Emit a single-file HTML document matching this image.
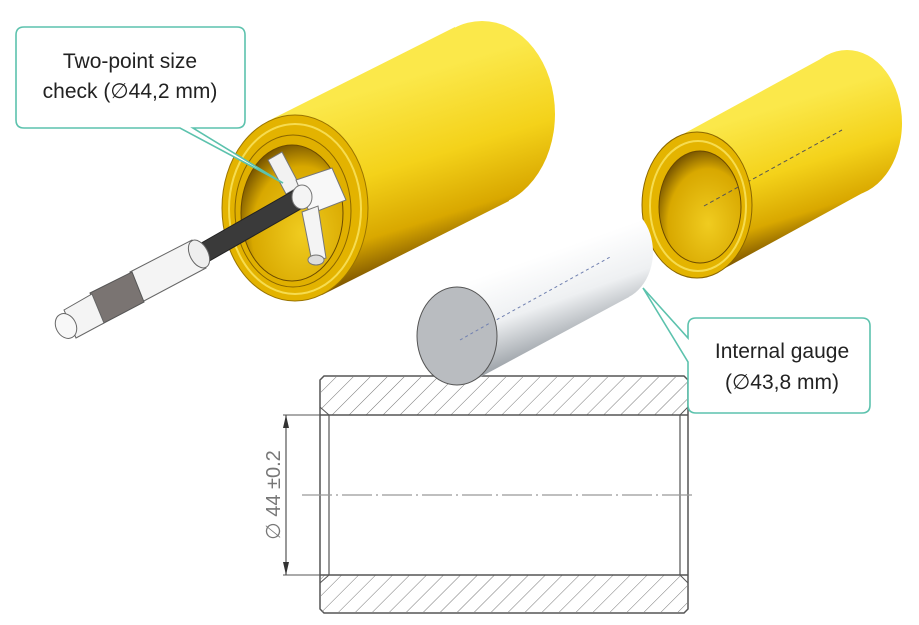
<!DOCTYPE html>
<html><head><meta charset="utf-8"><style>
html,body{margin:0;padding:0;background:#fff}
svg{display:block}
text{font-family:"Liberation Sans",Arial,sans-serif}
</style></head><body>
<svg width="919" height="625" viewBox="0 0 919 625" xmlns="http://www.w3.org/2000/svg">
<defs>
<linearGradient id="yb1" gradientUnits="userSpaceOnUse" x1="268" y1="121" x2="322" y2="295">
<stop offset="0" stop-color="#fbe84a"/><stop offset="0.45" stop-color="#f4d21a"/><stop offset="0.78" stop-color="#d9a800"/><stop offset="1" stop-color="#7a5200"/></linearGradient>
<linearGradient id="yb2" gradientUnits="userSpaceOnUse" x1="676" y1="138" x2="718" y2="272">
<stop offset="0" stop-color="#fbe84a"/><stop offset="0.45" stop-color="#f4d21a"/><stop offset="0.78" stop-color="#d9a800"/><stop offset="1" stop-color="#7a5200"/></linearGradient>
<linearGradient id="sv" gradientUnits="userSpaceOnUse" x1="441" y1="291" x2="473" y2="381">
<stop offset="0" stop-color="#ffffff"/><stop offset="0.5" stop-color="#eef0f2"/><stop offset="1" stop-color="#9aa0a6"/></linearGradient>
<radialGradient id="bore" cx="0.6" cy="0.65" r="0.7">
<stop offset="0" stop-color="#f0cc20"/><stop offset="0.7" stop-color="#d8a800"/><stop offset="1" stop-color="#6b4a00"/></radialGradient>
<pattern id="hatch" width="12" height="12" patternUnits="userSpaceOnUse" patternTransform="rotate(45)">
<line x1="0" y1="0" x2="0" y2="12" stroke="#777" stroke-width="1"/></pattern>
</defs>

<!-- Section drawing -->
<path d="M324,376 L684,376 L688,380 L688,609 L684,613 L324,613 L320,609 L320,380 Z" fill="#fff" stroke="#555" stroke-width="1.5"/>
<rect x="321" y="377" width="366" height="38" fill="url(#hatch)"/>
<rect x="321" y="575" width="366" height="37" fill="url(#hatch)"/>
<line x1="320" y1="415" x2="688" y2="415" stroke="#555" stroke-width="1.5"/>
<line x1="320" y1="575" x2="688" y2="575" stroke="#555" stroke-width="1.5"/>
<rect x="321" y="416" width="366" height="158" fill="#fff"/>
<line x1="329" y1="415" x2="329" y2="575" stroke="#555" stroke-width="1.2"/>
<line x1="680" y1="415" x2="680" y2="575" stroke="#555" stroke-width="1.2"/>
<line x1="320" y1="407" x2="329" y2="415" stroke="#555"/><line x1="688" y1="407" x2="680" y2="415" stroke="#555"/>
<line x1="320" y1="583" x2="329" y2="575" stroke="#555"/><line x1="688" y1="583" x2="680" y2="575" stroke="#555"/>
<line x1="302" y1="495" x2="696" y2="495" stroke="#999" stroke-width="1.2" stroke-dasharray="30,4,2,4"/>
<line x1="283" y1="415" x2="320" y2="415" stroke="#555"/>
<line x1="283" y1="575" x2="320" y2="575" stroke="#555"/>
<line x1="286" y1="415" x2="286" y2="575" stroke="#555" stroke-width="1.2"/>
<path d="M286,415 L283,428 L289,428 Z M286,575 L283,562 L289,562 Z" fill="#333"/>
<text x="0" y="0" transform="translate(280,495) rotate(-90)" text-anchor="middle" font-size="20" fill="#777">∅ 44 ±0.2</text>

<!-- Big yellow cylinder -->
<ellipse cx="482" cy="114" rx="73" ry="93" fill="url(#yb1)"/>
<polygon points="268,121 455,27 509,201 322,295" fill="url(#yb1)"/>
<ellipse cx="295" cy="208" rx="73" ry="93" fill="#e3b300" stroke="#9a7400" stroke-width="1"/>
<ellipse cx="295" cy="209" rx="66" ry="85" fill="none" stroke="#f6dc50" stroke-width="2"/>
<ellipse cx="293" cy="211" rx="58" ry="76" fill="#e0b000" stroke="#8a6600"/>
<ellipse cx="292" cy="213" rx="51" ry="68" fill="url(#bore)" stroke="#6b4a00"/>

<!-- micrometer head inside -->
<path d="M268,160 L282,152 L300,186 L286,194 Z" fill="#f2f2f2" stroke="#777"/>
<path d="M296,180 L332,168 L346,200 L310,214 Z" fill="#f8f8f8" stroke="#777"/>
<path d="M302,212 L318,206 L326,258 L312,262 Z" fill="#f4f4f4" stroke="#777"/>
<ellipse cx="316" cy="260" rx="8" ry="5" fill="#ddd" stroke="#777"/>
<!-- rod -->
<polygon points="196,246 298,188 306,206 204,264" fill="#3a3a3a" stroke="#222"/>
<ellipse cx="302" cy="197" rx="10" ry="12" fill="#f4f4f4" stroke="#777"/>
<!-- thimble -->
<polygon points="130,272 192,240 206,268 142,302" fill="#f4f4f4" stroke="#666"/>
<ellipse cx="199" cy="254" rx="9" ry="15" transform="rotate(-28 199 254)" fill="#eee" stroke="#666"/>
<polygon points="90,293 132,272 144,302 102,324" fill="#7a7472" stroke="#555"/>
<polygon points="64,310 92,294 104,323 76,338" fill="#f4f4f4" stroke="#666"/>
<ellipse cx="66" cy="326" rx="10" ry="13" transform="rotate(-28 66 326)" fill="#f8f8f8" stroke="#666"/>

<!-- Right yellow cylinder -->
<ellipse cx="847" cy="123" rx="55" ry="73" fill="url(#yb2)"/>
<polygon points="676,138 826,56 868,190 718,272" fill="url(#yb2)"/>
<line x1="704" y1="206" x2="842" y2="130" stroke="#555" stroke-width="1" stroke-dasharray="4,3"/>
<ellipse cx="697" cy="205" rx="55" ry="73" fill="#e4b400" stroke="#8a6600"/>
<ellipse cx="698" cy="206" rx="48" ry="65" fill="none" stroke="#f6dc50" stroke-width="2"/>
<ellipse cx="700" cy="207" rx="41" ry="56" fill="url(#bore)" stroke="#6b4a00"/>
<line x1="704" y1="206" x2="740" y2="186" stroke="#555" stroke-width="1" stroke-dasharray="4,3"/>

<!-- Gauge cylinder -->
<ellipse cx="613" cy="252" rx="40" ry="49" fill="url(#sv)"/>
<polygon points="441,291 597,207 629,297 473,381" fill="url(#sv)"/>
<line x1="460" y1="340" x2="612" y2="256" stroke="#7080b0" stroke-width="1" stroke-dasharray="3,3"/>
<ellipse cx="457" cy="336" rx="40" ry="49" fill="#b9bcc0" stroke="#555"/>
<line x1="460" y1="340" x2="490" y2="323" stroke="#7080b0" stroke-width="1" stroke-dasharray="3,3"/>

<!-- Callout 1 -->
<path d="M24,27 L237,27 Q245,27 245,35 L245,120 Q245,128 237,128 L193,128 L283,183 L180,128 L24,128 Q16,128 16,120 L16,35 Q16,27 24,27 Z" fill="#fff" stroke="#5cc2ad" stroke-width="1.6"/>
<text x="130" y="68" text-anchor="middle" font-size="21" fill="#222">Two-point size</text>
<text x="130" y="98" text-anchor="middle" font-size="21" fill="#222">check (∅44,2 mm)</text>

<!-- Callout 2 -->
<path d="M696,318 L862,318 Q870,318 870,326 L870,405 Q870,413 862,413 L696,413 Q688,413 688,405 L688,362 L643,288 L688,338 L688,326 Q688,318 696,318 Z" fill="#fff" stroke="#5cc2ad" stroke-width="1.6"/>
<text x="782" y="358" text-anchor="middle" font-size="21" fill="#222">Internal gauge</text>
<text x="782" y="389" text-anchor="middle" font-size="21" fill="#222">(∅43,8 mm)</text>
</svg>
</body></html>
